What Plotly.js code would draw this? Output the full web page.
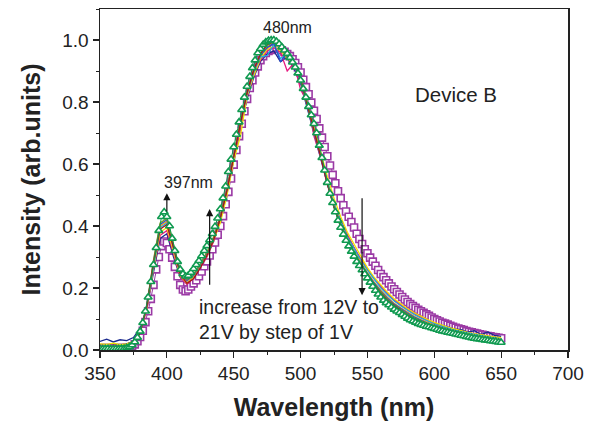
<!DOCTYPE html>
<html>
<head>
<meta charset="utf-8">
<script src="https://cdn.plot.ly/plotly-3.0.1.min.js"></script>
<style>html,body{margin:0;padding:0;background:#fff;}#chart{width:597px;height:425px;}</style>
</head>
<body>
<div id="chart"></div>
<script>
// Wavelength grid for marker series (2 nm)
const wlMarkers = [350,352,354,356,358,360,362,364,366,368,370,372,374,376,378,380,382,384,386,388,390,392,394,396,398,400,402,404,406,408,410,412,414,416,418,420,422,424,426,428,430,432,434,436,438,440,442,444,446,448,450,452,454,456,458,460,462,464,466,468,470,472,474,476,478,480,482,484,486,488,490,492,494,496,498,500,502,504,506,508,510,512,514,516,518,520,522,524,526,528,530,532,534,536,538,540,542,544,546,548,550,552,554,556,558,560,562,564,566,568,570,572,574,576,578,580,582,584,586,588,590,592,594,596,598,600,602,604,606,608,610,612,614,616,618,620,622,624,626,628,630,632,634,636,638,640,642,644,646,648,650];

// 12V (purple squares)
const v12 = [0.006,0.005,0.006,0.006,0.005,0.006,0.006,0.005,0.006,0.006,0.007,0.009,0.012,0.018,0.028,0.042,0.062,0.09,0.125,0.165,0.21,0.26,0.30,0.335,0.35,0.345,0.325,0.298,0.268,0.238,0.21,0.195,0.19,0.195,0.205,0.215,0.225,0.238,0.253,0.27,0.286,0.305,0.325,0.347,0.372,0.40,0.432,0.47,0.51,0.553,0.598,0.645,0.69,0.73,0.77,0.81,0.845,0.87,0.895,0.915,0.935,0.948,0.958,0.965,0.968,0.972,0.975,0.972,0.967,0.962,0.955,0.948,0.938,0.926,0.912,0.895,0.872,0.848,0.825,0.798,0.772,0.745,0.715,0.685,0.655,0.625,0.595,0.565,0.538,0.512,0.49,0.467,0.447,0.43,0.413,0.395,0.375,0.358,0.342,0.325,0.312,0.298,0.285,0.272,0.258,0.245,0.235,0.225,0.215,0.205,0.196,0.187,0.179,0.171,0.163,0.155,0.148,0.142,0.136,0.13,0.125,0.12,0.115,0.11,0.105,0.1,0.096,0.092,0.088,0.085,0.082,0.078,0.075,0.072,0.069,0.067,0.064,0.061,0.059,0.057,0.055,0.053,0.051,0.049,0.047,0.045,0.044,0.042,0.041,0.039,0.038];

// 21V (green triangles)
const v21 = [0.004,0.003,0.004,0.004,0.003,0.004,0.004,0.004,0.005,0.005,0.007,0.010,0.016,0.026,0.04,0.06,0.088,0.125,0.17,0.22,0.275,0.33,0.385,0.43,0.445,0.43,0.40,0.36,0.32,0.285,0.26,0.245,0.238,0.24,0.25,0.262,0.275,0.288,0.303,0.32,0.336,0.355,0.375,0.398,0.425,0.455,0.49,0.528,0.575,0.615,0.655,0.695,0.735,0.775,0.815,0.85,0.882,0.91,0.935,0.958,0.972,0.985,0.993,0.998,1.0,1.0,0.995,0.987,0.977,0.967,0.956,0.943,0.928,0.912,0.893,0.87,0.843,0.815,0.785,0.758,0.73,0.70,0.66,0.62,0.58,0.54,0.505,0.475,0.445,0.418,0.395,0.373,0.353,0.335,0.318,0.302,0.285,0.272,0.258,0.245,0.232,0.218,0.205,0.192,0.18,0.17,0.16,0.152,0.145,0.138,0.131,0.125,0.12,0.114,0.108,0.102,0.097,0.093,0.089,0.085,0.082,0.079,0.076,0.074,0.071,0.069,0.066,0.063,0.061,0.059,0.057,0.055,0.053,0.051,0.049,0.047,0.045,0.043,0.041,0.039,0.037,0.036,0.035,0.033,0.032,0.031,0.029,0.028,0.027,0.025,0.024];

// Wavelength grid for line series (5 nm)
const wlLines = [350,355,360,365,370,375,380,385,390,395,400,405,410,415,420,425,430,435,440,445,450,455,460,465,470,475,480,485,490,495,500,505,510,515,520,525,530,535,540,545,550,555,560,565,570,575,580,585,590,595,600,605,610,615,620,625,630,635,640,645,650];

const v13 = [0.028,0.035,0.026,0.033,0.03,0.04,0.07,0.13,0.25,0.36,0.375,0.30,0.235,0.215,0.235,0.27,0.305,0.355,0.42,0.51,0.62,0.72,0.81,0.88,0.93,0.955,0.965,0.93,0.945,0.91,0.86,0.78,0.70,0.63,0.54,0.47,0.42,0.37,0.33,0.29,0.26,0.23,0.205,0.18,0.16,0.145,0.13,0.118,0.106,0.096,0.087,0.08,0.074,0.068,0.066,0.058,0.062,0.05,0.058,0.047,0.044];
const v14 = [0.015,0.012,0.016,0.013,0.015,0.025,0.055,0.13,0.26,0.37,0.385,0.31,0.235,0.212,0.232,0.265,0.30,0.35,0.42,0.505,0.615,0.72,0.815,0.885,0.935,0.965,0.975,0.96,0.90,0.925,0.84,0.80,0.69,0.62,0.535,0.47,0.415,0.37,0.33,0.295,0.262,0.232,0.205,0.182,0.162,0.146,0.131,0.118,0.106,0.096,0.087,0.079,0.072,0.066,0.06,0.055,0.051,0.047,0.043,0.04,0.037];
const v15 = [0.02,0.018,0.022,0.017,0.02,0.028,0.058,0.135,0.265,0.38,0.395,0.315,0.24,0.215,0.235,0.268,0.305,0.355,0.41,0.50,0.61,0.69,0.82,0.885,0.94,0.97,0.98,0.965,0.94,0.925,0.875,0.80,0.72,0.64,0.56,0.49,0.43,0.38,0.34,0.30,0.265,0.235,0.21,0.186,0.165,0.148,0.133,0.12,0.108,0.098,0.089,0.081,0.074,0.068,0.062,0.057,0.053,0.049,0.045,0.042,0.04];
const v16 = [0.012,0.014,0.011,0.013,0.014,0.024,0.056,0.14,0.275,0.395,0.41,0.325,0.245,0.222,0.24,0.272,0.31,0.36,0.425,0.515,0.625,0.73,0.825,0.895,0.945,0.95,0.985,0.94,0.955,0.92,0.87,0.79,0.71,0.63,0.545,0.475,0.415,0.365,0.325,0.29,0.258,0.228,0.2,0.178,0.158,0.142,0.127,0.114,0.103,0.093,0.084,0.077,0.07,0.064,0.059,0.054,0.05,0.046,0.042,0.039,0.036];
const v17 = [0.01,0.011,0.009,0.012,0.011,0.022,0.055,0.14,0.28,0.40,0.415,0.33,0.248,0.222,0.24,0.272,0.31,0.36,0.428,0.518,0.628,0.732,0.83,0.9,0.95,0.98,0.99,0.975,0.955,0.925,0.87,0.79,0.705,0.625,0.54,0.468,0.408,0.358,0.318,0.283,0.25,0.22,0.193,0.17,0.151,0.136,0.122,0.109,0.098,0.088,0.08,0.073,0.066,0.061,0.056,0.051,0.047,0.043,0.04,0.037,0.034];
const v18 = [0.008,0.009,0.008,0.009,0.009,0.021,0.056,0.142,0.285,0.405,0.42,0.335,0.25,0.225,0.242,0.275,0.312,0.362,0.43,0.52,0.63,0.735,0.83,0.9,0.95,0.975,0.99,0.93,0.958,0.92,0.87,0.785,0.70,0.62,0.535,0.462,0.402,0.352,0.312,0.278,0.246,0.216,0.19,0.167,0.148,0.133,0.119,0.106,0.095,0.086,0.078,0.071,0.064,0.059,0.054,0.049,0.045,0.041,0.038,0.035,0.032];
const v19 = [0.006,0.006,0.007,0.006,0.008,0.021,0.057,0.145,0.29,0.41,0.425,0.34,0.255,0.228,0.245,0.278,0.315,0.365,0.432,0.522,0.632,0.737,0.833,0.905,0.955,0.985,0.995,0.985,0.96,0.928,0.872,0.79,0.705,0.622,0.535,0.46,0.4,0.35,0.31,0.275,0.242,0.212,0.186,0.163,0.145,0.13,0.116,0.103,0.093,0.084,0.076,0.069,0.062,0.057,0.052,0.047,0.043,0.039,0.036,0.033,0.03];
const v20 = [0.004,0.005,0.004,0.005,0.008,0.022,0.055,0.14,0.28,0.39,0.405,0.33,0.245,0.215,0.23,0.265,0.305,0.355,0.425,0.515,0.625,0.73,0.83,0.905,0.955,0.985,0.995,0.985,0.962,0.93,0.875,0.795,0.71,0.625,0.535,0.46,0.40,0.35,0.31,0.275,0.24,0.21,0.183,0.16,0.142,0.127,0.113,0.1,0.09,0.081,0.073,0.066,0.06,0.054,0.049,0.044,0.04,0.036,0.033,0.03,0.027];

const lineSeries = [v13, v14, v15, v16, v17, v18, v19, v20];
const lineNames = ['13V','14V','15V','16V','17V','18V','19V','20V'];
const lineColors = ['#1d2b8f','#e6197f','#f2e300','#1fb0e0','#f39a1e','#2850d0','#7a9a20','#a3141c'];

const FONT = 'Liberation Sans, Arial, sans-serif';

const traces = [];
traces.push({
  x: wlMarkers, y: v12, name: '12V', mode: 'lines+markers', type: 'scatter',
  line: {color: '#9b3aa5', width: 1},
  marker: {symbol: 'square', size: 7, color: '#ffffff', line: {color: '#9b3aa5', width: 1.6}}
});
lineSeries.forEach((s, i) => {
  traces.push({
    x: wlLines, y: s, name: lineNames[i], mode: 'lines', type: 'scatter',
    line: {color: lineColors[i], width: 1.3}
  });
});
traces.push({
  x: wlMarkers, y: v21, name: '21V', mode: 'lines+markers', type: 'scatter',
  line: {color: '#109a50', width: 1},
  marker: {symbol: 'triangle-up', size: 7, color: '#ffffff', line: {color: '#109a50', width: 1.6}}
});

const arrowStyle = {showarrow: true, arrowhead: 2, arrowsize: 1.2, arrowwidth: 1.2, arrowcolor: '#111',
  axref: 'x', ayref: 'y', text: ''};

const layout = {
  width: 597, height: 425,
  margin: {l: 100, r: 29, t: 9, b: 75},
  paper_bgcolor: '#fff', plot_bgcolor: '#fff',
  showlegend: false,
  font: {family: FONT, color: '#222'},
  xaxis: {
    range: [350, 700], dtick: 50, tick0: 350,
    showline: true, linecolor: '#222', linewidth: 1.5, mirror: true,
    ticks: 'outside', ticklen: 6, tickwidth: 1.2, tickcolor: '#222',
    minor: {dtick: 25, ticks: 'outside', ticklen: 3, tickwidth: 1, tickcolor: '#222'},
    showgrid: false, zeroline: false,
    tickfont: {family: FONT, size: 19, color: '#222'},
    title: {text: '<b>Wavelength (nm)</b>', font: {family: FONT, size: 25, color: '#222'}, standoff: 15}
  },
  yaxis: {
    range: [0, 1.1], dtick: 0.2, tick0: 0, tickformat: '.1f',
    showline: true, linecolor: '#222', linewidth: 1.5, mirror: true,
    ticks: 'outside', ticklen: 6, tickwidth: 1.2, tickcolor: '#222',
    minor: {dtick: 0.1, ticks: 'outside', ticklen: 3, tickwidth: 1, tickcolor: '#222'},
    showgrid: false, zeroline: false,
    tickfont: {family: FONT, size: 19, color: '#222'},
    title: {text: '<b>Intensity (arb.units)</b>', font: {family: FONT, size: 25, color: '#222'}, standoff: 14}
  },
  annotations: [
    {x: 490.5, y: 1.039, text: '480nm', showarrow: false, font: {family: FONT, size: 16, color: '#222'}},
    {x: 416.3, y: 0.539, text: '397nm', showarrow: false, font: {family: FONT, size: 16, color: '#222'}},
    {x: 616.5, y: 0.823, text: 'Device B', showarrow: false, font: {family: FONT, size: 20.5, color: '#222'}},
    {x: 422.3, y: 0.097, xanchor: 'left', align: 'left', text: 'increase from 12V to<br>21V by step of 1V',
      showarrow: false, font: {family: FONT, size: 19.5, color: '#222'}},
    Object.assign({x: 400, y: 0.506, ax: 400, ay: 0.442}, arrowStyle),
    Object.assign({x: 432, y: 0.455, ax: 432, ay: 0.206}, arrowStyle),
    Object.assign({x: 546, y: 0.177, ax: 546, ay: 0.494}, arrowStyle)
  ]
};

Plotly.newPlot('chart', traces, layout, {displayModeBar: false, staticPlot: true});
</script>
</body>
</html>
